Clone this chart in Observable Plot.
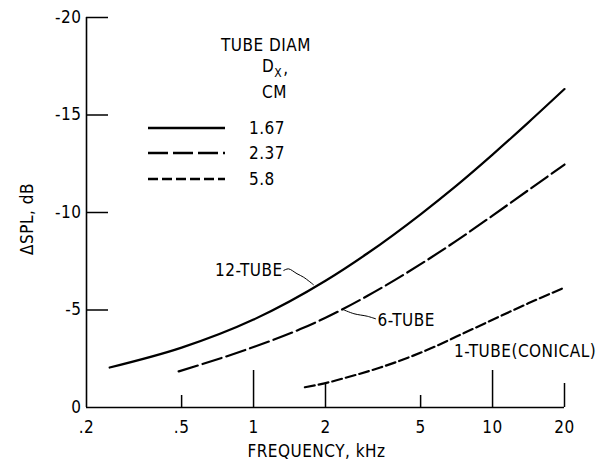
<!DOCTYPE html>
<html>
<head>
<meta charset="utf-8">
<script src="https://cdn.jsdelivr.net/npm/d3@7"></script>
<script src="https://cdn.jsdelivr.net/npm/@observablehq/plot@0.6"></script>
<style>
  html, body { margin: 0; padding: 0; background: #fff; }
  #chart { width: 607px; height: 464px; }
</style>
</head>
<body>
<div id="chart"></div>
<script>
// ΔSPL versus frequency for three nozzle configurations.
const FONT = '"Liberation Sans Narrow", "DejaVu Sans Condensed", "Liberation Sans", sans-serif';

// 12-tube nozzle (tube diameter 1.67 cm)
const tube12Freq = [0.25, 0.5, 1, 2, 3, 5, 7, 10, 14.1, 20];
const tube12Dspl = [-2.05, -3.07, -4.51, -6.5, -7.91, -9.91, -11.34, -12.97, -14.61, -16.33];

// 6-tube nozzle (tube diameter 2.37 cm)
const tube6Freq = [0.486, 1, 1.57, 2, 3, 5, 7, 10, 14.1, 20];
const tube6Dspl = [-1.85, -3.1, -4.02, -4.6, -5.73, -7.35, -8.52, -9.84, -11.14, -12.46];

// 1-tube conical nozzle (tube diameter 5.8 cm)
const tube1Freq = [1.64, 2.0, 2.47, 3.39, 4.66, 5.49, 7.1, 10, 14.1, 20];
const tube1Dspl = [-1.04, -1.25, -1.55, -2.05, -2.66, -3.02, -3.65, -4.5, -5.34, -6.15];

// axis ticks
const freqTicks = [0.2, 0.5, 1, 2, 5, 10, 20];
const freqTickLabels = [".2", ".5", "1", "2", "5", "10", "20"];
const dbTicks = [0, -5, -10, -15, -20];
const dbTickLabels = ["0", "-5", "-10", "-15", "-20"];

// curve labels: [text, frequency, dB]
const curveLabels = [
  ["12-TUBE", 0.69, -7.0],
  ["6-TUBE", 3.3, -4.46],
  ["1-TUBE(CONICAL)", 6.9, -2.87]
];
// leader lines from labels to curves
const leader12 = [[1.338, -7.03], [1.40, -7.11], [1.52, -6.86], [1.62, -6.68], [1.78, -6.3]];
const leader6 = [[3.24, -4.55], [2.99, -4.68], [2.63, -4.81], [2.35, -5.04]];

// legend entries
const legendTitle = "TUBE DIAM";
const legendDiam = ["1.67", "2.37", "5.8"];
const legendDash = [null, "20,5", "10,4"];

const zip = (xs, ys) => xs.map((x, i) => ({x, y: ys[i]}));
const freqLabel = new Map(freqTicks.map((d, i) => [d, freqTickLabels[i]]));
const dbLabel = new Map(dbTicks.map((d, i) => [d, dbTickLabels[i]]));

const width = 607, height = 464;
const mL = 86, mR = 43, mT = 17, mB = 57;
const innerH = height - mT - mB;
const innerW = width - mL - mR;

const chart = Plot.plot({
  width, height,
  marginLeft: mL, marginRight: mR, marginTop: mT, marginBottom: mB,
  style: {fontFamily: FONT, fontSize: "17px", background: "#fff", color: "#000", overflow: "visible", letterSpacing: "0.5px"},
  x: {type: "log", domain: [0.2, 20]},
  y: {domain: [0, -20]},
  marks: [
    Plot.axisX({ticks: freqTicks, tickFormat: d => freqLabel.get(d), tickSize: 0, tickPadding: 13, label: null}),
    Plot.axisY({ticks: dbTicks, tickFormat: d => dbLabel.get(d), tickSize: 0, tickPadding: 5, label: null}),
    // axis lines
    Plot.ruleX([0.2], {stroke: "#000", strokeWidth: 1.6}),
    Plot.ruleY([0], {stroke: "#000", strokeWidth: 1.6}),
    // inward ticks
    Plot.tickY(dbTicks.filter(d => d !== 0), {y: d => d, insetRight: innerW - 22, stroke: "#000", strokeWidth: 1.5}),
    Plot.tickX([1, 10], {x: d => d, insetTop: innerH - 37, stroke: "#000", strokeWidth: 1.5}),
    Plot.tickX([2, 20], {x: d => d, insetTop: innerH - 24, stroke: "#000", strokeWidth: 1.5}),
    Plot.tickX([0.5, 5], {x: d => d, insetTop: innerH - 12, stroke: "#000", strokeWidth: 1.5}),
    // curves
    Plot.line(zip(tube12Freq, tube12Dspl), {x: "x", y: "y", curve: "monotone-x", stroke: "#000", strokeWidth: 2.2}),
    Plot.line(zip(tube6Freq, tube6Dspl), {x: "x", y: "y", curve: "monotone-x", stroke: "#000", strokeWidth: 2.2, strokeDasharray: "20,5"}),
    Plot.line(zip(tube1Freq, tube1Dspl), {x: "x", y: "y", curve: "monotone-x", stroke: "#000", strokeWidth: 2.2, strokeDasharray: "10,4"}),
    // leaders and labels
    Plot.line(leader12, {x: d => d[0], y: d => d[1], curve: "catmull-rom", stroke: "#000", strokeWidth: 1}),
    Plot.line(leader6, {x: d => d[0], y: d => d[1], curve: "catmull-rom", stroke: "#000", strokeWidth: 1}),
    Plot.text(curveLabels, {x: d => d[1], y: d => d[2], text: d => d[0], textAnchor: "start", lineAnchor: "middle", fill: "#000"}),
    // x axis title
    Plot.text(["FREQUENCY, kHz"], {frameAnchor: "bottom", dx: -9, dy: 44, lineAnchor: "middle", fill: "#000"})
  ]
});

document.getElementById("chart").appendChild(chart);

const svg = d3.select(chart);

// y axis title, rotated
svg.append("text")
  .attr("transform", "translate(27,219) rotate(-90)")
  .attr("text-anchor", "middle")
  .attr("dy", "0.35em")
  .attr("font-family", FONT)
  .attr("font-size", 17)
  .attr("letter-spacing", "0.5px")
  .attr("fill", "#000")
  .text("ΔSPL, dB");

// legend block inside the plot area
const lg = svg.append("g")
  .attr("font-family", FONT)
  .attr("font-size", 17)
  .attr("letter-spacing", "0.5px")
  .attr("text-anchor", "start")
  .attr("fill", "#000");

lg.append("text").attr("x", 221).attr("y", 51).text(legendTitle);
const dx = lg.append("text").attr("x", 262).attr("y", 72);
dx.append("tspan").text("D");
dx.append("tspan").attr("font-size", 12).attr("dy", 5).text("X");
dx.append("tspan").attr("dx", 1).attr("dy", -3).text(",");
lg.append("text").attr("x", 262).attr("y", 98).text("CM");

const rowY = [128, 153, 179];
legendDiam.forEach((t, i) => {
  lg.append("line")
    .attr("x1", 148).attr("x2", 225)
    .attr("y1", rowY[i]).attr("y2", rowY[i])
    .attr("stroke", "#000").attr("stroke-width", 2.4)
    .attr("stroke-dasharray", legendDash[i]);
  lg.append("text").attr("x", 249).attr("y", rowY[i] + 6).text(t);
});
</script>
</body>
</html>
